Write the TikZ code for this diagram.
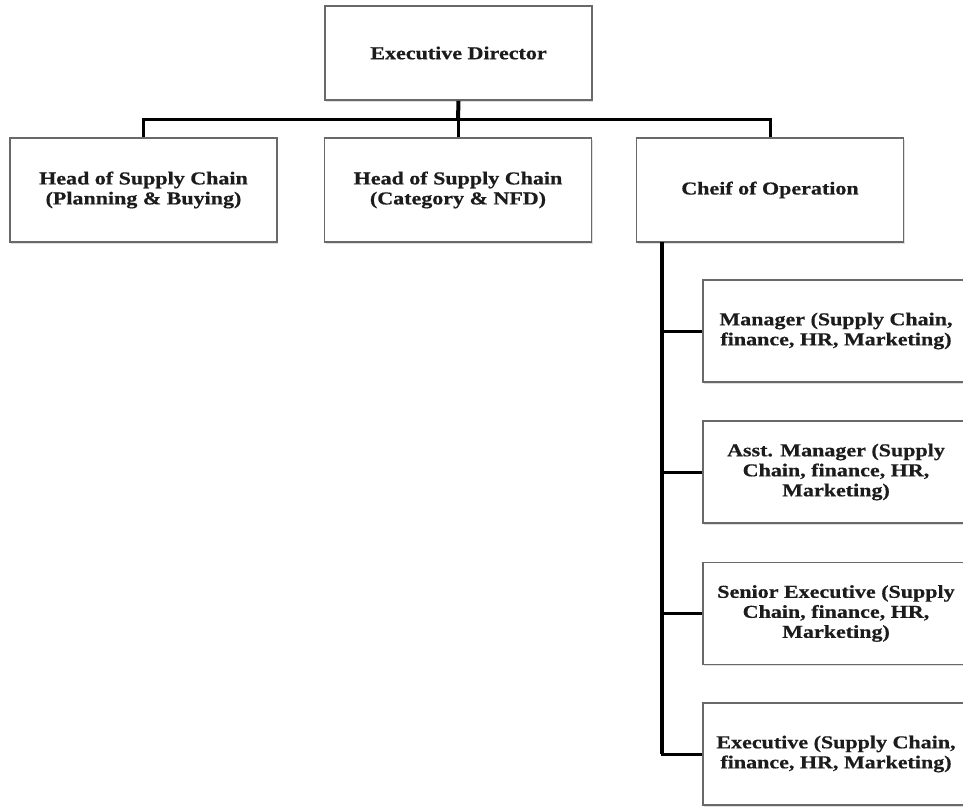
\documentclass[tikz,border=0pt]{standalone}
\usepackage{fontspec}
\setmainfont{Liberation Serif}[FakeStretch=1.21,FakeBold=0.6]
\usetikzlibrary{shadows}
\definecolor{boxline}{RGB}{105,105,105}
\definecolor{txt}{RGB}{28,28,28}
\tikzset{
  orgbox/.style={draw=boxline, line width=1.6pt, fill=white, rectangle,
    minimum width=267pt, minimum height=#1, inner sep=2pt, align=center,
    text=txt, font=\bfseries\fontsize{18.2}{20}\selectfont,
    drop shadow={opacity=0.25, shadow xshift=1pt, shadow yshift=-1.5pt}},
  orgbox/.default=104pt,
  conn/.style={line width=3pt, black},
  trunk/.style={line width=4pt, black}
}
\begin{document}
\begin{tikzpicture}[x=1pt,y=-1pt]
\useasboundingbox (0,0) rectangle (963,806);
\node[orgbox=94pt] (ED) at (458.5,53) {Executive Director};
\node[orgbox] (HP) at (143.5,190) {Head of Supply Chain\\(Planning \& Buying)};
\node[orgbox] (HC) at (458,190) {Head of Supply Chain\\(Category \& NFD)};
\node[orgbox] (CO) at (770,190) {Cheif of Operation};
\node[orgbox=102pt, minimum width=266pt] (M1) at (836,331) {Manager (Supply Chain,\\finance, HR, Marketing)};
\node[orgbox=102pt, minimum width=266pt] (M2) at (836,472) {Asst. Manager (Supply\\Chain, finance, HR,\\Marketing)};
\node[orgbox=102pt, minimum width=266pt] (M3) at (836,613.5) {Senior Executive (Supply\\Chain, finance, HR,\\Marketing)};
\node[orgbox=102pt, minimum width=266pt] (M4) at (836,754) {Executive (Supply Chain,\\finance, HR, Marketing)};
\coordinate (bus) at (458,119.5);
\coordinate (vt) at (662,242);
\draw[trunk] (ED.south) -- (bus);
\draw[conn] (HP.north) |- (bus) -| (CO.north);
\draw[conn] (bus) -- (HC.north);
\draw[trunk] (vt) -- (vt |- M4.west);
\draw[conn] (vt |- M1.west) -- (M1.west);
\draw[conn] (vt |- M2.west) -- (M2.west);
\draw[conn] (vt |- M3.west) -- (M3.west);
\draw[conn] ([xshift=-1.5pt]vt |- M4.west) -- (M4.west);
\end{tikzpicture}
\end{document}
